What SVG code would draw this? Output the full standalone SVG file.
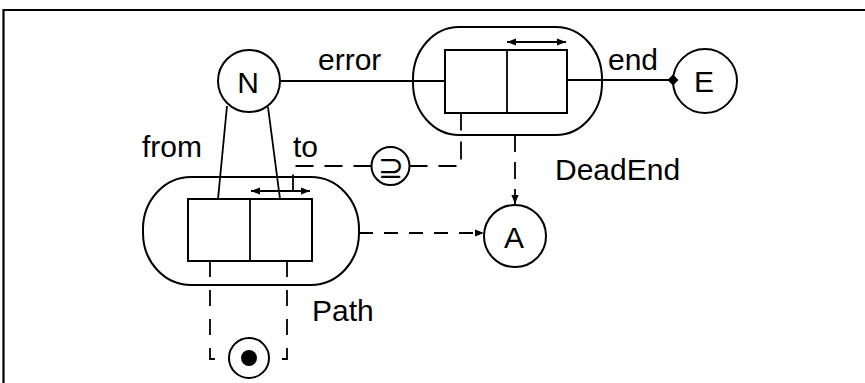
<svg xmlns="http://www.w3.org/2000/svg" width="865" height="383" viewBox="0 0 865 383">
<defs>
<style>
.shape{fill:#fff;stroke:#000;stroke-width:2}
.ln{fill:none;stroke:#000;stroke-width:1.8}
.dash{fill:none;stroke:#000;stroke-width:1.8;stroke-dasharray:18 11}
.lbl{font-family:"Liberation Sans",Arial,sans-serif;font-size:30px;fill:#000}
.mid{text-anchor:middle}
</style>
<marker id="arr" viewBox="0 0 10 10" refX="10" refY="5" markerWidth="9" markerHeight="9" markerUnits="userSpaceOnUse" orient="auto-start-reverse">
<path d="M0,1 L10,5 L0,9 z" fill="#000"/>
</marker>
<marker id="dot" viewBox="0 0 10 10" refX="5" refY="5" markerWidth="11" markerHeight="11" markerUnits="userSpaceOnUse">
<path d="M5,0 L10,5 L5,10 L0,5 z" fill="#000"/>
</marker>
</defs>
<rect width="865" height="383" fill="#fff"/>
<g id="frame">
<path d="M3.5,383 V10 H865" fill="none" stroke="#000" stroke-width="2.2"/>
</g>
<g id="N">
<circle class="shape" cx="249" cy="81" r="31"/>
<text class="lbl mid" x="248" y="93">N</text>
</g>
<g id="DeadEnd">
<rect class="shape" x="413" y="27" width="189" height="108" rx="46" ry="52"/>
<rect class="shape" x="445" y="50" width="122" height="63"/>
<line class="ln" x1="507" y1="50" x2="507" y2="113"/>
<line class="ln" x1="507" y1="42" x2="566" y2="42" marker-start="url(#arr)" marker-end="url(#arr)"/>
<text class="lbl" x="555" y="180">DeadEnd</text>
</g>
<g id="Path">
<rect class="shape" x="143" y="177" width="216" height="108" rx="48" ry="52"/>
<rect class="shape" x="188" y="199" width="124" height="62"/>
<line class="ln" x1="250" y1="199" x2="250" y2="261"/>
<line class="ln" x1="251" y1="191" x2="310" y2="191" marker-start="url(#arr)" marker-end="url(#arr)"/>
<text class="lbl" x="312" y="321">Path</text>
</g>
<g id="E">
<circle class="shape" cx="705" cy="81" r="32"/>
<text class="lbl mid" x="704" y="92">E</text>
</g>
<g id="A">
<circle class="shape" cx="515" cy="236" r="31"/>
<text class="lbl mid" x="514" y="248">A</text>
</g>
<g id="superset">
<circle class="shape" cx="390.5" cy="166" r="19"/>
<text x="391" y="178" text-anchor="middle" font-family="DejaVu Sans, sans-serif" font-size="31">⊇</text>
</g>
<g id="final">
<circle class="shape" cx="249" cy="358" r="20"/>
<circle cx="249" cy="358" r="8" fill="#000"/>
</g>
<g id="connectors">
<line class="ln" x1="281" y1="81" x2="445" y2="81"/>
<line class="ln" x1="567" y1="80" x2="673" y2="80" marker-end="url(#dot)"/>
<line class="ln" x1="227" y1="106" x2="218" y2="199"/>
<line class="ln" x1="268" y1="107" x2="280" y2="199"/>
<path class="dash" d="M409.5,166 H461 V113"/>
<path class="dash" d="M371.5,166 H293 V191"/>
<path class="dash" style="stroke-dasharray:17 10" d="M515,135 V204" marker-end="url(#arr)"/>
<path class="dash" style="stroke-dasharray:14 11" d="M359,233 H484" marker-end="url(#arr)"/>
<path class="dash" style="stroke-dasharray:16 13" d="M210,261 V359 H229"/>
<path class="dash" style="stroke-dasharray:16 13" d="M287,261 V359 H269"/>
</g>
<g id="labels">
<text class="lbl" x="318" y="70">error</text>
<text class="lbl" x="608" y="70">end</text>
<text class="lbl" x="142" y="157">from</text>
<text class="lbl" x="293" y="157">to</text>
</g>
</svg>
